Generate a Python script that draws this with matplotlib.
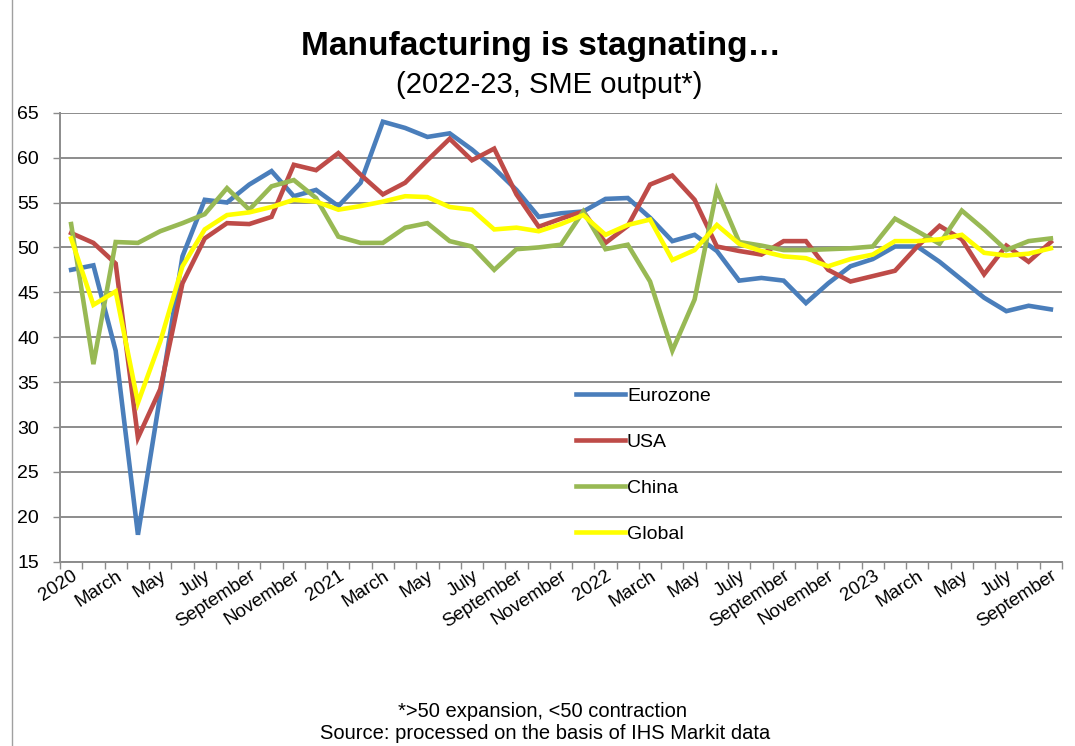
import numpy as np
import matplotlib
matplotlib.use("Agg")
import matplotlib.pyplot as plt
from matplotlib.lines import Line2D

plt.rcParams['font.family'] = ['Liberation Sans', 'DejaVu Sans']

# monthly values, Jan 2020 - Sep 2023
eurozone = [47.5, 48.0, 38.5, 18.0, 33.5, 49.0, 55.3, 55.0, 57.0, 58.5,
            55.7, 56.4, 54.6, 57.2, 64.0, 63.3, 62.3, 62.7, 60.9, 58.8,
            56.4, 53.4, 53.8, 54.0, 55.4, 55.5, 53.3, 50.7, 51.4, 49.6,
            46.3, 46.6, 46.3, 43.8, 46.0, 47.9, 48.7, 50.1, 50.1, 48.4,
            46.4, 44.4, 42.9, 43.5, 43.1]
usa = [51.6, 50.5, 48.2, 28.8, 34.2, 46.0, 51.0, 52.7, 52.6, 53.4,
       59.2, 58.6, 60.5, 58.1, 55.9, 57.2, 59.7, 62.1, 59.7, 61.0,
       55.9, 52.3, 53.2, 54.0, 50.5, 52.4, 57.0, 58.0, 55.3, 50.1,
       49.6, 49.2, 50.7, 50.7, 47.5, 46.2, 46.8, 47.4, 50.1, 52.4,
       50.9, 47.0, 50.2, 48.4, 50.6]
china = [52.6, 37.0, 50.6, 50.5, 51.8, 52.7, 53.7, 56.6, 54.2, 56.8,
         57.5, 55.5, 51.2, 50.5, 50.5, 52.2, 52.7, 50.7, 50.1, 47.5,
         49.8, 50.0, 50.3, 54.0, 49.8, 50.3, 46.2, 38.5, 44.2, 56.4,
         50.6, 50.2, 49.7, 49.7, 49.8, 49.9, 50.1, 53.2, 51.8, 50.4,
         54.1, 52.0, 49.7, 50.7, 51.0]
global_ = [51.0, 43.6, 45.1, 32.7, 39.5, 47.9, 52.0, 53.6, 53.9, 54.5,
           55.3, 55.1, 54.2, 54.6, 55.1, 55.7, 55.6, 54.5, 54.2, 52.0,
           52.2, 51.8, 52.6, 53.6, 51.4, 52.5, 53.1, 48.6, 49.7, 52.5,
           50.4, 49.6, 49.0, 48.8, 47.9, 48.7, 49.2, 50.7, 50.7, 50.9,
           51.4, 49.4, 49.1, 49.3, 49.9]

tick_labels = ["2020", "March", "May", "July", "September", "November",
               "2021", "March", "May", "July", "September", "November",
               "2022", "March", "May", "July", "September", "November",
               "2023", "March", "May", "July", "September"]

series = [("Eurozone", eurozone, "#4a7ebb"),
          ("USA", usa, "#be4b48"),
          ("China", china, "#98b954"),
          ("Global", global_, "#ffff00")]

fig = plt.figure(figsize=(10.75, 7.46), dpi=100)
ax = fig.add_axes([60 / 1075, 1 - 561.7 / 746, 1002 / 1075, 449 / 746])

x = np.arange(len(eurozone))
for name, vals, col in series:
    ax.plot(x, vals, color=col, lw=3.3, label=name, solid_joinstyle='miter')

ax.set_ylim(15, 65)
ax.set_yticks(np.arange(15, 66, 5))
ax.set_xlim(-0.5, len(x) - 0.5)
ax.yaxis.grid(True, color='#8c8c8c', lw=1.4)
ax.set_axisbelow(True)

# category ticks at boundaries, labels every second month
ax.set_xticks(np.arange(-0.5, len(x), 1), minor=True)
ax.set_xticks(np.arange(0, len(x), 2))
ax.set_xticklabels(tick_labels, rotation=33, ha='right', va='top',
                   rotation_mode='anchor', fontsize=13.5)
ax.tick_params(axis='x', which='major', length=0, pad=4)
ax.tick_params(axis='x', which='minor', length=5, color='#8c8c8c', width=1)
ax.tick_params(axis='y', length=5, color='#8c8c8c', width=1, labelsize=14, pad=10)

for s in ['top', 'right']:
    ax.spines[s].set_visible(False)
for s in ['left', 'bottom']:
    ax.spines[s].set_color('#8c8c8c')
    ax.spines[s].set_linewidth(1.4)

ax.legend(loc='upper left', bbox_to_anchor=(0.515, 0.388), frameon=False,
          fontsize=14, labelspacing=1.45, handlelength=2.5, handletextpad=0.12,
          borderpad=0, borderaxespad=0)

fig.text(0.503, 0.938, "Manufacturing is stagnating…", ha='center', va='center',
         fontsize=24, fontweight='bold')
fig.text(0.511, 0.886, "(2022-23, SME output*)", ha='center', va='center', fontsize=21)

foot = ['Liberation Sans Narrow', 'Liberation Sans', 'DejaVu Sans']
fig.text(0.505, 0.046, "*>50 expansion, <50 contraction", ha='center', va='center',
         fontsize=14.5, family=foot)
fig.text(0.507, 0.017, "Source: processed on the basis of IHS Markit data", ha='center',
         va='center', fontsize=14.5, family=foot)

fig.add_artist(Line2D([12 / 1075, 12 / 1075], [0, 1], color='#a0a0a0', lw=1))

fig.savefig("out.png", dpi=100)
